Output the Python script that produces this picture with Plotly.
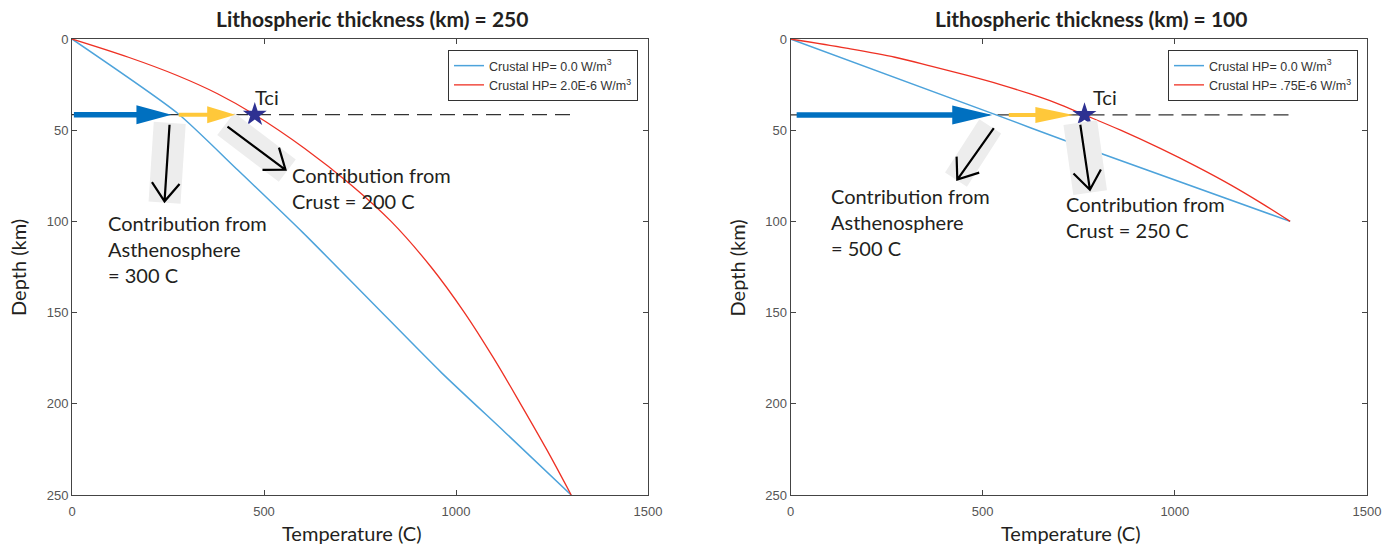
import math
import plotly.graph_objects as go

# ---------------- data ----------------
temp_ticks = [0, 500, 1000, 1500]
depth_ticks = [0, 50, 100, 150, 200, 250]

# Left panel: lithospheric thickness 250 km
L_blue_depth = [0, 40.7, 71.7, 106.3, 144.6, 182.9, 215.7, 250]
L_blue_temp = [0, 275, 431, 602, 782, 962, 1128, 1300]
L_red_depth = [0, 10, 20, 30, 41.5, 60, 80, 100, 125, 150, 175, 200, 225, 250]
L_red_temp = [0, 147, 274, 379, 476, 606, 727, 831, 935, 1022, 1098, 1168, 1236, 1300]
L_tci_depth = 41.5
L_tci_temp = 476
L_asth_arrow = [5, 259]     # temperature span of blue arrow
L_crust_arrow = [278, 425]  # temperature span of yellow arrow
L_contrib = ["Contribution from<br>Asthenosphere<br>= 300 C", "Contribution from<br>Crust = 200 C"]

# Right panel: lithospheric thickness 100 km
R_blue_depth = [0, 41.6, 55.5, 100]
R_blue_temp = [0, 535, 712, 1300]
R_red_depth = [0, 5, 10, 15, 20, 25, 30, 35, 41.6, 50, 60, 70, 80, 90, 100]
R_red_temp = [0, 145, 272, 368, 460, 546, 622, 690, 765, 859, 962, 1057, 1145, 1225, 1300]
R_tci_depth = 41.6
R_tci_temp = 765
R_asth_arrow = [16, 525]
R_crust_arrow = [568, 736]
R_contrib = ["Contribution from<br>Asthenosphere<br>= 500 C", "Contribution from<br>Crust = 250 C"]

titles = ["Lithospheric thickness (km) = 250", "Lithospheric thickness (km) = 100"]
legend_L = ["Crustal HP= 0.0 W/m<sup>3</sup>", "Crustal HP= 2.0E-6 W/m<sup>3</sup>"]
legend_R = ["Crustal HP= 0.0 W/m<sup>3</sup>", "Crustal HP= .75E-6 W/m<sup>3</sup>"]

# ---------------- style ----------------
W, H = 1398, 546
BLUE = "#4DA3DB"
RED = "#EE3124"
ARROW_BLUE = "#0070C0"
ARROW_YEL = "#FFC83A"
STAR = "#2E3192"
GRAY_BOX = "#EDEDED"
TXT_FONT = "Lato, Open Sans, sans-serif"
TICK_FONT = "Liberation Sans, Arial, sans-serif"

L_px = (72, 648)
R_px = (790.5, 1367)
Y_px = (39, 495)
PPU_Y = (Y_px[1] - Y_px[0]) / 250.0

fig = go.Figure()

def add_panel(xa, ya, bt, bd, rt, rd, leg_names, legname):
    fig.add_trace(go.Scatter(x=bt, y=bd, mode="lines", line=dict(color=BLUE, width=1.5, shape="spline", smoothing=0.6),
                             name=leg_names[0], xaxis=xa, yaxis=ya, legend=legname))
    fig.add_trace(go.Scatter(x=rt, y=rd, mode="lines", line=dict(color=RED, width=1.3, shape="spline"),
                             name=leg_names[1], xaxis=xa, yaxis=ya, legend=legname))

add_panel("x", "y", L_blue_temp, L_blue_depth, L_red_temp, L_red_depth, legend_L, "legend")
add_panel("x2", "y2", R_blue_temp, R_blue_depth, R_red_temp, R_red_depth, legend_R, "legend2")

for xa, ya, t, d in [("x", "y", L_tci_temp, L_tci_depth), ("x2", "y2", R_tci_temp, R_tci_depth)]:
    fig.add_trace(go.Scatter(x=[t], y=[d], mode="markers", showlegend=False, xaxis=xa, yaxis=ya,
                             marker=dict(symbol="star", size=18, color=STAR, line=dict(width=0))))

shapes = []
annotations = []

def black_arrow(xr, yr, ppu_x, tail, tip, theta_deg=37, arm=23):
    # offsets in screen pixels (x right, y down) from tip
    dx = (tail[0] - tip[0]) * ppu_x
    dy = (tail[1] - tip[1]) * PPU_Y
    n = math.hypot(dx, dy)
    ux, uy = dx / n, dy / n
    pts = []
    for s in (1, -1):
        th = math.radians(theta_deg) * s
        ax = (ux * math.cos(th) - uy * math.sin(th)) * arm
        ay = (ux * math.sin(th) + uy * math.cos(th)) * arm
        pts.append((ax, ay))
    # pixel-mode path: y positive is up
    path = (f"M{dx:.1f},{-dy:.1f} L0,0 M{pts[0][0]:.1f},{-pts[0][1]:.1f} L0,0 "
            f"L{pts[1][0]:.1f},{-pts[1][1]:.1f}")
    shapes.append(dict(type="path", xref=xr, yref=yr, xsizemode="pixel", ysizemode="pixel",
                       xanchor=tip[0], yanchor=tip[1], path=path,
                       line=dict(color="black", width=2.2)))

def panel_decor(xr, yr, px_range, tci_t, tci_d, asth, crust, blue_head, yel_head,
                asth_box, crust_box, asth_arr, crust_arr, texts, text_pos, tci_pos):
    ppu = (px_range[1] - px_range[0]) / 1500.0
    # dashed reference line
    shapes.append(dict(type="line", xref=xr, yref=yr, x0=0, x1=1300, y0=tci_d, y1=tci_d,
                       line=dict(color="#333333", width=1.2, dash="15px,8px"), layer="below"))
    # gray boxes behind black arrows
    for (x0, y0, x1, y1, w) in [asth_box, crust_box]:
        shapes.append(dict(type="line", xref=xr, yref=yr, x0=x0, y0=y0, x1=x1, y1=y1,
                           line=dict(color=GRAY_BOX, width=w)))
    # thick arrows
    for (span, (hl, hh), col, sw) in [(asth, blue_head, ARROW_BLUE, 5.5), (crust, yel_head, ARROW_YEL, 4)]:
        shapes.append(dict(type="line", xref=xr, yref=yr, x0=span[0], x1=span[1] - 0.7 * hl / ppu,
                           y0=tci_d, y1=tci_d, line=dict(color=col, width=sw)))
        shapes.append(dict(type="path", xref=xr, yref=yr, xsizemode="pixel", ysizemode="pixel",
                           xanchor=span[1], yanchor=tci_d,
                           path=f"M0,0 L{-hl},{hh} L{-hl},{-hh} Z",
                           fillcolor=col, line=dict(width=0)))
    # black arrows
    for (tx, ty, hx, hy) in [asth_arr, crust_arr]:
        black_arrow(xr, yr, ppu, (tx, ty), (hx, hy))
    # texts
    for txt, (tx, ty) in zip(texts, text_pos):
        annotations.append(dict(xref=xr, yref=yr, x=tx, y=ty, text=txt, showarrow=False,
                                xanchor="left", yanchor="middle", align="left",
                                font=dict(family=TXT_FONT, size=20, color="#231F20")))
    annotations.append(dict(xref=xr, yref=yr, x=tci_pos[0], y=tci_pos[1], text="Tci", showarrow=False,
                            xanchor="center", yanchor="middle",
                            font=dict(family=TXT_FONT, size=20, color="#231F20")))

panel_decor("x", "y", L_px, L_tci_temp, L_tci_depth, L_asth_arrow, L_crust_arrow,
            (35, 9.5), (28, 8.5),
            (254.5, 46.0, 241, 89.7, 32), (400.3, 46.5, 560.7, 72.2, 28),
            (254, 47.0, 241, 89.0), (405, 48.0, 556, 71.7),
            L_contrib, [(88.7, 114.9), (567, 81.5)], (507, 32.0))
panel_decor("x2", "y2", R_px, R_tci_temp, R_tci_depth, R_asth_arrow, R_crust_arrow,
            (40, 9.5), (38, 8),
            (519.8, 47.9, 430.6, 77.1, 26), (754, 45.9, 779.7, 84.2, 34),
            (529, 48.9, 434, 77.1), (754, 47.0, 779, 82.6),
            R_contrib, [(100.6, 100.5), (712, 97.4)], (818, 32.0))

# titles and axis titles
for px, ttl in [(L_px, titles[0]), (R_px, titles[1])]:
    cx = (px[0] + px[1]) / 2 / W
    annotations.append(dict(xref="paper", yref="paper", x=cx + 12 / W, y=1 - 19 / H, text="<b>" + ttl + "</b>",
                            showarrow=False, xanchor="center", yanchor="middle",
                            font=dict(family=TXT_FONT, size=21, color="#231F20")))
    annotations.append(dict(xref="paper", yref="paper", x=cx - 8 / W, y=1 - 533 / H, text="Temperature (C)",
                            showarrow=False, xanchor="center", yanchor="middle",
                            font=dict(family=TXT_FONT, size=20, color="#231F20")))
    annotations.append(dict(xref="paper", yref="paper", x=(px[0] - 54) / W, y=1 - 268 / H, text="Depth (km)",
                            showarrow=False, xanchor="center", yanchor="middle", textangle=-90,
                            font=dict(family=TXT_FONT, size=20, color="#231F20")))

axis_common = dict(ticks="inside", ticklen=5, tickwidth=1, tickcolor="#444444", showline=True,
                   linecolor="#444444", linewidth=1, mirror="ticks", showgrid=False, zeroline=False,
                   automargin=False,
                   tickfont=dict(family=TICK_FONT, size=13, color="#555555"))
ydom = [1 - Y_px[1] / H, 1 - Y_px[0] / H]

legend_common = dict(xanchor="right", y=1 - 50 / H, yanchor="top", bgcolor="white",
                     bordercolor="#333333", borderwidth=1,
                     font=dict(family=TICK_FONT, size=12.5, color="#333333"))

fig.update_layout(
    template="none",
    width=W, height=H, margin=dict(l=0, r=0, t=0, b=0, pad=0, autoexpand=False),
    paper_bgcolor="white", plot_bgcolor="white",
    xaxis=dict(domain=[L_px[0] / W, L_px[1] / W], range=[0, 1500], tickvals=temp_ticks, anchor="y",
               ticklabelstandoff=4, **axis_common),
    yaxis=dict(domain=ydom, range=[250, 0], tickvals=depth_ticks, anchor="x", **axis_common),
    xaxis2=dict(domain=[R_px[0] / W, R_px[1] / W], range=[0, 1500], tickvals=temp_ticks, anchor="y2",
                ticklabelstandoff=4, **axis_common),
    yaxis2=dict(domain=ydom, range=[250, 0], tickvals=depth_ticks, anchor="x2", **axis_common),
    legend=dict(x=638 / W, **legend_common),
    legend2=dict(x=1358 / W, **legend_common),
    shapes=shapes, annotations=annotations,
)

fig.write_html("out.html")
